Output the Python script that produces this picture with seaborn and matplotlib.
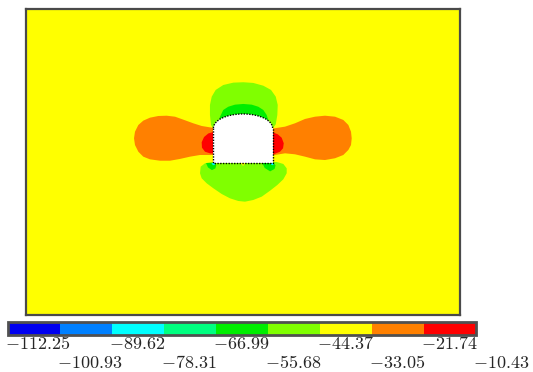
import matplotlib
matplotlib.use("Agg")
import matplotlib.pyplot as plt
import matplotlib.transforms as mtransforms
from matplotlib.colors import ListedColormap, BoundaryNorm
from matplotlib.cm import ScalarMappable
from matplotlib.patches import Rectangle, Ellipse, Arc
import seaborn as sns

# legend levels (stress) and band colours
levels = [-112.25, -100.93, -89.62, -78.31, -66.99,
          -55.68, -44.37, -33.05, -21.74, -10.43]
band_colors = ["#0000f0", "#0080ff", "#00ffff", "#00ff80", "#00ee00",
               "#80ff00", "#ffff00", "#ff8000", "#ff0000"]

# model extent (m) and tunnel geometry
model_x = [-22.0, 22.0]
model_y = [-15.4, 15.6]
tunnel_half_width = 3.0
wall_height = 3.55
arch_rise = 1.42
far_field_band = 6

# band outlines (m), tunnel floor centre at (0, 0)
lobe_left_x = [-2.5, -3.17, -4.19, -5.04, -6.05, -6.89, -7.74, -8.59, -9.43,
               -10.11, -10.61, -10.95, -11.05, -10.95, -10.61, -10.11, -9.43,
               -8.41, -7.40, -6.39, -5.37, -4.36, -3.17, -2.5]
lobe_left_y = [3.58, 3.58, 3.75, 4.02, 4.39, 4.69, 4.79, 4.76, 4.59,
               4.29, 3.85, 3.17, 2.50, 1.82, 1.14, 0.64, 0.37,
               0.23, 0.23, 0.41, 0.64, 0.81, 0.81, 0.81]
lobe_right_x = [2.5, 3.24, 4.26, 5.27, 6.29, 7.30, 8.31, 9.33, 10.17, 10.68,
                10.95, 11.02, 10.95, 10.68, 10.17, 9.33, 8.31, 7.30, 6.29,
                5.27, 4.26, 3.24, 2.5]
lobe_right_y = [3.52, 3.52, 3.68, 4.02, 4.46, 4.69, 4.79, 4.69, 4.36, 3.85,
                3.17, 2.50, 1.82, 1.32, 0.81, 0.48, 0.30, 0.37, 0.64,
                0.88, 0.98, 0.81, 0.81]
red_left_x = [-2.5, -3.0, -3.52, -3.95, -4.19, -4.16, -3.85, -3.35, -3.0, -2.5]
red_left_y = [3.14, 3.14, 2.99, 2.63, 2.10, 1.55, 1.14, 0.98, 0.95, 0.95]
red_right_x = [2.5, 3.0, 3.52, 3.92, 4.13, 4.06, 3.75, 3.24, 3.0, 2.5]
red_right_y = [3.11, 3.11, 2.91, 2.56, 2.00, 1.49, 1.14, 0.94, 0.91, 0.91]
crown_green_x = [-2.5, -3.01, -3.24, -3.35, -3.35, -3.17, -2.77, -2.00, -0.98,
                 0.03, 1.04, 2.06, 2.84, 3.32, 3.52, 3.48, 3.32, 3.07, 2.5]
crown_green_y = [3.52, 3.52, 3.85, 4.86, 5.88, 6.72, 7.40, 7.90, 8.14,
                 8.18, 8.11, 7.83, 7.40, 6.72, 5.88, 4.86, 3.92, 3.58, 3.58]
crown_cap_x = [-2.45, -2.33, -2.00, -1.49, -0.81, 0.03, 0.88, 1.55, 2.06,
               2.40, 2.56, 0.0]
crown_cap_y = [4.30, 4.69, 5.37, 5.70, 5.91, 5.98, 5.91, 5.70, 5.37,
               4.86, 4.36, 4.0]
floor_green_x = [-3.17, -3.85, -4.29, -4.36, -4.19, -3.68, -3.01, -2.16, -1.32,
                 -0.48, 0.20, 1.04, 1.90, 2.74, 3.48, 4.09, 4.43, 4.43, 4.09,
                 3.42]
floor_green_y = [0.1, -0.03, -0.37, -1.04, -1.55, -2.06, -2.56, -3.14, -3.58,
                 -3.85, -3.92, -3.75, -3.41, -2.81, -2.23, -1.65, -1.04, -0.54,
                 -0.10, 0.1]
corner_left_x = [-3.75, -3.55, -3.15, -2.8, -2.7, -2.9]
corner_left_y = [0.0, -0.45, -0.72, -0.55, -0.2, 0.0]
corner_right_x = [1.95, 2.2, 2.75, 3.2, 3.3, 3.1]
corner_right_y = [0.0, -0.5, -0.85, -0.6, -0.25, 0.0]
corner_tip_left_x = [-3.2, -3.05, -2.85, -2.85]
corner_tip_left_y = [0.0, -0.22, -0.2, 0.0]
corner_tip_right_x = [2.85, 2.85, 3.05, 3.2]
corner_tip_right_y = [0.0, -0.2, -0.22, 0.0]
floor_spot_x = [-0.25, 0.0, 0.25]
floor_spot_y = [0.0, -0.3, 0.0]

regions = [
    (far_field_band, [model_x[0], model_x[1], model_x[1], model_x[0]],
     [model_y[0], model_y[0], model_y[1], model_y[1]]),
    (7, lobe_left_x, lobe_left_y),
    (7, lobe_right_x, lobe_right_y),
    (8, red_left_x, red_left_y),
    (8, red_right_x, red_right_y),
    (5, crown_green_x, crown_green_y),
    (4, crown_cap_x, crown_cap_y),
    (5, floor_green_x, floor_green_y),
    (4, corner_left_x, corner_left_y),
    (4, corner_right_x, corner_right_y),
    (2, corner_tip_left_x, corner_tip_left_y),
    (2, corner_tip_right_x, corner_tip_right_y),
    (6, floor_spot_x, floor_spot_y),
]


def main():
    sns.set_style("white")
    plt.rcParams["mathtext.fontset"] = "cm"

    palette = sns.color_palette(band_colors)
    cmap = ListedColormap(palette)
    norm = BoundaryNorm(levels, cmap.N)

    fig = plt.figure(figsize=(5.33, 3.72), dpi=100)
    ax = fig.add_axes([26 / 533, 1 - 315 / 372, 434 / 533, 306 / 372])
    for band, xs, ys in regions:
        ax.fill(xs, ys, color=palette[band], lw=0)

    # the opening
    w = tunnel_half_width
    ax.add_patch(Rectangle((-w, 0), 2 * w, wall_height,
                           fc="white", ec="none", zorder=3))
    ax.add_patch(Ellipse((0, wall_height), 2 * w, 2 * arch_rise,
                         fc="white", ec="none", zorder=3))
    ax.add_patch(Arc((0, wall_height), 2 * w, 2 * arch_rise,
                     theta1=0, theta2=180, color="black", lw=1.0,
                     ls=(0, (1, 1)), zorder=4))
    ax.plot([-w, -w, w, w], [wall_height, 0, 0, wall_height],
            color="black", lw=1.0, ls=(0, (1, 1)), zorder=4)

    ax.set_xlim(model_x)
    ax.set_ylim(model_y)
    ax.set_xticks([])
    ax.set_yticks([])
    for sp in ax.spines.values():
        sp.set_color("#4a4a4a")
        sp.set_linewidth(1.6)
        sp.set_zorder(5)

    # horizontal legend bar
    cax = fig.add_axes([8 / 533, 1 - 335 / 372, 468 / 533, 13 / 372])
    sm = ScalarMappable(norm=norm, cmap=cmap)
    cb = fig.colorbar(sm, cax=cax, orientation="horizontal", ticks=levels)
    cb.outline.set_edgecolor("#505050")
    cb.outline.set_linewidth(2)
    cax.tick_params(length=0, labelbottom=False)

    trans = mtransforms.offset_copy(cax.get_xaxis_transform(), fig=fig,
                                    x=-3, y=0, units="dots")
    for k, v in enumerate(levels):
        yb = -1.1 if k % 2 == 0 else -2.55
        cax.text(v, yb, f"${v:.2f}$", transform=trans, ha="left",
                 va="baseline", fontsize=13, clip_on=False)

    fig.savefig("out.png", dpi=100)
    plt.close(fig)


if __name__ == "__main__":
    main()
